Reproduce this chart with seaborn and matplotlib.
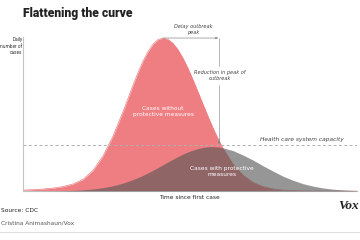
import numpy as np
import pandas as pd
import matplotlib
matplotlib.use("Agg")
import matplotlib.pyplot as plt
import seaborn as sns

# time since first case (arbitrary units)
time = [0, 10, 20, 30, 40, 50, 60, 70, 80, 90, 100,
        105, 110, 115, 120, 125, 130, 135, 140, 145, 150, 155, 160, 165, 170, 175,
        180, 185, 190, 195,
        200, 210, 220, 230, 240, 250, 260, 270, 280, 290, 300, 310, 320, 330, 334]
# daily cases without protective measures
cases_without = [0.6, 0.9, 1.3, 1.9, 2.9, 4.6, 7.6, 13.5, 23, 36, 52,
                 60.6, 69.3, 77.5, 85, 91.2, 96, 99, 100, 99.1, 96.5, 92.3, 86.7, 80.1,
                 72.6, 64.7, 56.6, 48.7, 41.1, 34.1,
                 27.8, 17.5, 10.3, 5.6, 2.9, 1.4, 0.6, 0.25, 0.1, 0, 0, 0, 0, 0, 0]
# daily cases with protective measures
cases_with = [0, 0.03, 0.06, 0.12, 0.23, 0.44, 0.78, 1.35, 2.2, 3.45, 5.2,
              6.3, 7.5, 8.8, 10.3, 11.9, 13.6, 15.4, 17.2, 19.1, 20.8, 22.6, 24.2, 25.6,
              26.8, 27.8, 28.5, 28.95, 29, 28.8,
              28.2, 26.4, 23.5, 20.2, 16.5, 13, 9.7, 7, 4.8, 3.2, 2.0, 1.2, 0.7, 0.3, 0.2]
capacity = 30

df = pd.DataFrame({"time": time, "without": cases_without, "with": cases_with})

sns.set_theme(style="white")
plt.rcParams['font.family'] = ['DejaVu Sans']

fig = plt.figure(figsize=(3.6, 2.4), dpi=100)
ax = fig.add_axes([0.064, 0.204, 0.928, 0.642])

red = "#EE7E82"
grey = "#565656"

ax.fill_between(df["time"], 0, df["without"], color=red, linewidth=0, zorder=2)
sns.lineplot(data=df, x="time", y="without", ax=ax, color=red, linewidth=0.5, zorder=2)
ax.fill_between(df["time"], 0, df["with"], color=grey, alpha=0.62, linewidth=0, zorder=3)

ax.axhline(capacity, color="#b0b0b0", linestyle=(0, (3, 2.5)), linewidth=0.7, zorder=4)

ax.set_xlim(0, 334)
ax.set_ylim(0, 100.7)
ax.set_xticks([])
ax.set_yticks([])
ax.set_xlabel("")
ax.set_ylabel("")
for s in ["top", "right"]:
    ax.spines[s].set_visible(False)
for s in ["left", "bottom"]:
    ax.spines[s].set_color("#c4c4c4")
    ax.spines[s].set_linewidth(0.8)

# annotations
ax.annotate("", xy=(195, 100), xytext=(140, 100),
            arrowprops=dict(arrowstyle="-|>", color="#888", lw=0.5,
                            mutation_scale=3, shrinkA=0, shrinkB=0))
ax.plot([196, 196], [100, 82], color="#999", lw=0.5)
ax.plot([196, 196], [69, 31.5], color="#999", lw=0.5)
ax.annotate("", xy=(196, 30.5), xytext=(196, 34),
            arrowprops=dict(arrowstyle="-|>", color="#888", lw=0.5,
                            mutation_scale=3, shrinkA=0, shrinkB=0))
ax.text(170, 102, "Delay outbreak\npeak", ha="center", va="bottom", fontsize=3.6,
        style="italic", color="#444", linespacing=1.2)
ax.text(197, 75.5, "Reduction in peak of\noutbreak", ha="center", va="center",
        fontsize=3.6, style="italic", color="#444", linespacing=1.2)
ax.text(279, 32, "Health care system capacity", ha="center", va="bottom",
        fontsize=4.2, style="italic", color="#444")
ax.text(140, 52, "Cases without\nprotective measures", ha="center", va="center",
        fontsize=4.2, color="white", linespacing=1.25)
ax.text(199, 13, "Cases with protective\nmeasures", ha="center", va="center",
        fontsize=4.2, color="white", linespacing=1.25)

# figure texts
fig.text(23 / 360, 1 - 14 / 240, "Flattening the curve", ha="left", va="center",
         fontsize=8.7, fontweight="heavy", family="Roboto", color="#222")
fig.text(22.5 / 360, 1 - 37 / 240, "Daily\nnumber of\ncases", ha="right", va="top",
         fontsize=3.4, family="Roboto", color="#333", linespacing=1.4)
fig.text(189 / 360, 1 - 197.5 / 240, "Time since first case", ha="center", va="center",
         fontsize=4.2, color="#222")
fig.text(1 / 360, 1 - 210 / 240, "Source: CDC", ha="left", va="center",
         fontsize=4.2, color="#222")
fig.text(1 / 360, 1 - 223 / 240, "Cristina Animashaun/Vox", ha="left", va="center",
         fontsize=4.2, color="#555")
fig.text(338 / 360, 1 - 206 / 240, "Vox", ha="left", va="center", fontsize=9.5,
         fontweight="bold", style="italic", family="Liberation Serif", color="#222")
fig.add_artist(plt.Line2D([0, 1], [1 - 232 / 240] * 2, color="#dddddd", lw=0.7,
                          transform=fig.transFigure))

fig.savefig("out.png", dpi=100)
